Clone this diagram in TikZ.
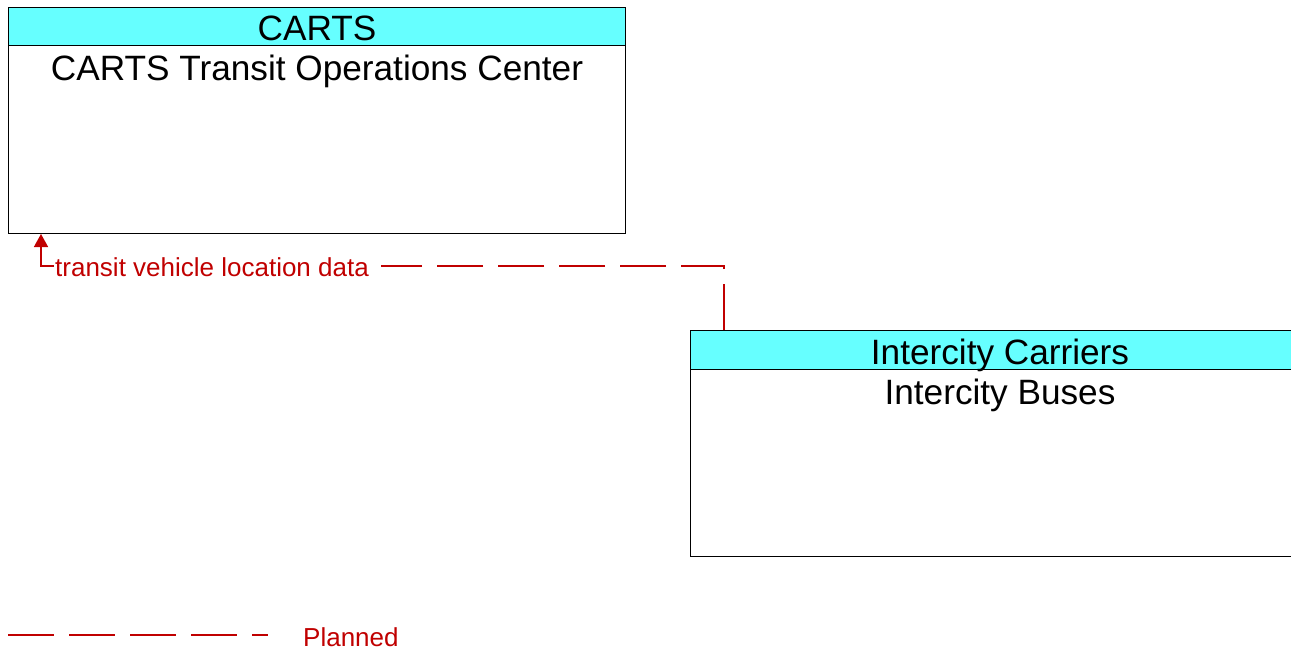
\documentclass[tikz,border=0pt]{standalone}
\usepackage{fontspec}
\setmainfont{Liberation Sans}
\usetikzlibrary{arrows.meta}
\definecolor{hdr}{RGB}{102,255,255}
\definecolor{flow}{RGB}{192,0,0}
\begin{document}
\begin{tikzpicture}[x=1pt,y=-1pt,
  hdrbox/.style={draw=black, fill=hdr, line width=1pt, anchor=north west, inner sep=0pt},
  bodybox/.style={draw=black, fill=white, line width=1pt, anchor=north west, inner sep=0pt},
  title/.style={anchor=base, font=\fontsize{35.2}{37}\selectfont, text=black, inner sep=0pt},
  flowline/.style={draw=flow, line width=1.5pt},
  dashflow/.style={flowline, dash pattern=on 46pt off 15pt},
  flowtext/.style={anchor=base west, font=\fontsize{26}{28}\selectfont, text=flow, inner sep=1pt}]
\useasboundingbox (0,0) rectangle (1291,651);
% CARTS
\node[bodybox, minimum width=617pt, minimum height=188pt] (cartsB) at (8,45) {};
\node[hdrbox, minimum width=617pt, minimum height=38pt] (cartsH) at (8,7) {};
\node[title] (cartsT) at (317,40) {CARTS};
\node[title] (cartsN) at (317,80) {CARTS Transit Operations Center};
% Intercity
\node[bodybox, minimum width=620pt, minimum height=187pt] (icB) at (690,369) {};
\node[hdrbox, minimum width=620pt, minimum height=39pt] (icH) at (690,330) {};
\node[title] (icT) at (1000,364) {Intercity Carriers};
\node[title] (icN) at (1000,404) {Intercity Buses};
% flow
\coordinate (bend) at (724,266);
\coordinate (arrowx) at (41,266);
\node[flowtext] (lbl) at (54,276) {transit vehicle location data};
\coordinate (dashend) at ([xshift=11pt]lbl.east |- bend);
\draw[dashflow] (icH.north -| bend) -- (bend) -- (dashend);
\draw[flowline, -{Triangle[length=13pt,width=14pt]}] (lbl.west |- bend) -- (arrowx) -- (cartsB.south -| arrowx);
% legend
\coordinate (lg1) at (8,635);
\coordinate (lg2) at (268,635);
\draw[dashflow] (lg1) -- (lg2);
\node[flowtext] (lgt) at (302,646) {Planned};
\end{tikzpicture}
\end{document}
